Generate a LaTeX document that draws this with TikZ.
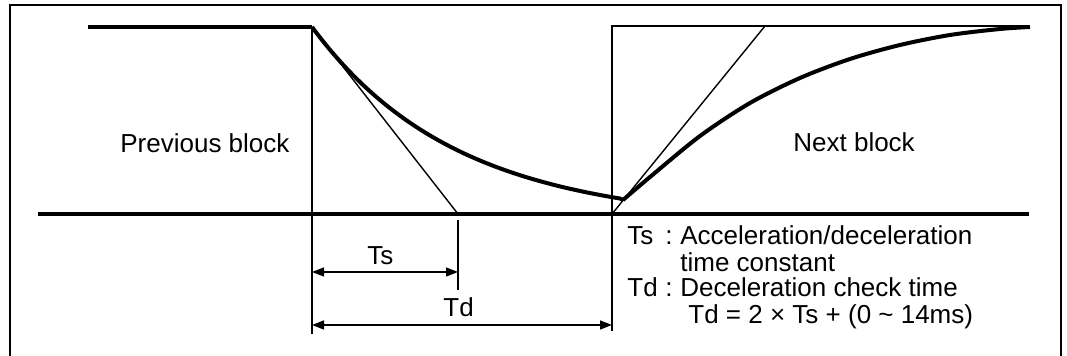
\documentclass[tikz,border=0pt]{standalone}
\usepackage{fontspec}
\setmainfont{Liberation Sans}
\usetikzlibrary{arrows.meta}
\begin{document}
\begin{tikzpicture}[x=0.5pt, y=-0.5pt,
    fine/.style={line width=0.7pt},
    heavy/.style={line width=2pt},
    dim/.style={line width=0.7pt, {Triangle[length=6pt,width=4.5pt]}-{Triangle[length=6pt,width=4.5pt]}},
    lbl/.style={anchor=base west, inner sep=0pt, font=\fontsize{13}{13}\selectfont}]
    \useasboundingbox (0,0) rectangle (1067,356);
    % Frame, open at the bottom
    \draw[line width=1pt] (10,356) -- (10,5) -- (1061,5) -- (1061,356);
    % Key points
    \coordinate (prev) at (88,27);   \coordinate (decel) at (312,27);
    \coordinate (axisL) at (38,214); \coordinate (axisR) at (1029,214);
    \coordinate (tsEnd) at (458,214); \coordinate (cmd) at (612,214);
    \coordinate (cmdTop) at (612,26); \coordinate (topR) at (1030,26);
    \coordinate (accTs) at (765,26);
    \coordinate (decelB) at (312,334); \coordinate (cmdB) at (612,331);
    \coordinate (tickT) at (458,220); \coordinate (tickB) at (458,290);
    % Axis and command steps
    \draw[heavy] (axisL) -- (axisR);
    \draw[heavy] (prev) -- (decel);
    \draw[fine] (decel) -- (decelB);
    \draw[fine] (cmdB) -- (cmdTop) -- (topR);
    \draw[fine] (tickT) -- (tickB);
    % Linear slopes
    \draw[fine] (decel) -- (tsEnd);
    \draw[fine] (cmd) -- (accTs);
    % Smoothed speed
    \draw[heavy, line join=round] plot[domain=312:620, samples=50] (\x, {214-187*exp(-(\x-312)/140)+0.017*(\x-312)}) -- (623,200);
    \draw[heavy] plot[smooth] coordinates {(623,200) (650,177) (700,136) (750,103) (800,78) (850,59) (900,45) (950,35) (1000,29) (1030,27)};
    % Dimensions
    \coordinate (tsA) at (312,272); \coordinate (tsB) at (458,272);
    \coordinate (tdA) at (312,325); \coordinate (tdB) at (612,325);
    \draw[dim] (tsA) -- (tsB);
    \draw[dim] (tdA) -- (tdB);
    \node[lbl] (tsLbl) at (367,265) {Ts};
    \node[lbl] (tdLbl) at (443,317) {Td};
    % Block names
    \node[lbl] (prevBlk) at (120,153) {Previous block};
    \node[lbl] (nextBlk) at (793,152) {Next block};
    % Legend
    \node[lbl] (keyTs) at (627,245) {Ts};
    \node[lbl] (colTs) at (665,245) {:};
    \node[lbl] (defTs) at (680,245) {Acceleration/deceleration};
    \node[lbl] (defTs2) at (680,272) {time constant};
    \node[lbl] (keyTd) at (627,297) {Td};
    \node[lbl] (colTd) at (665,297) {:};
    \node[lbl] (defTd) at (680,297) {Deceleration check time};
    \node[lbl] (defTd2) at (688,324) {Td = 2 × Ts + (0 \textasciitilde{} 14ms)};
\end{tikzpicture}
\end{document}
